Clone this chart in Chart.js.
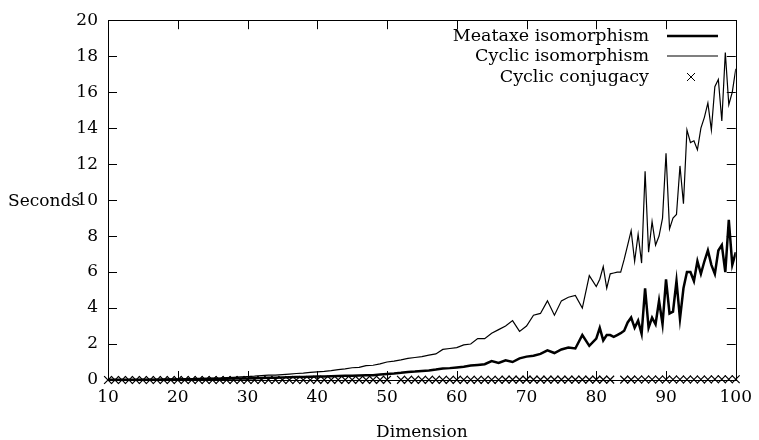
<!DOCTYPE html>
<html>
<head>
<meta charset="utf-8">
<title>Isomorphism timings</title>
<script src="https://cdn.jsdelivr.net/npm/chart.js@4.4.1/dist/chart.umd.min.js"></script>
<style>
    html, body { margin: 0; padding: 0; background: #ffffff; }
    #wrap { width: 759px; height: 440px; position: relative; }
</style>
</head>
<body>
<div id="wrap"><canvas id="timingChart"></canvas></div>
<script>
// Data
const isoDims = [
    10, 11, 12, 13, 14, 15, 16, 17, 18, 19,
    20, 21, 22, 23, 24, 25, 26, 27, 28, 29,
    30, 31, 32, 33, 34, 35, 36, 37, 38, 39,
    40, 41, 42, 43, 44, 45, 46, 47, 48, 49,
    50, 51, 52, 53, 54, 55, 56, 57, 58, 59,
    60, 61, 62, 63, 64, 65, 66, 67, 68, 69,
    70, 71, 72, 73, 74, 75, 76, 77, 78, 79,
    80, 80.5, 81, 81.5, 82, 82.5, 83, 83.5, 84, 84.5,
    85, 85.5, 86, 86.5, 87, 87.5, 88, 88.5, 89, 89.5,
    90, 90.5, 91, 91.5, 92, 92.5, 93, 93.5, 94, 94.5,
    95, 95.5, 96, 96.5, 97, 97.5, 98, 98.5, 99, 99.5,
    100
];

const meataxeIso = [
    0.01, 0.01, 0.01, 0.01, 0.02, 0.02, 0.02, 0.02, 0.03, 0.03,
    0.03, 0.04, 0.04, 0.05, 0.05, 0.06, 0.06, 0.07, 0.08, 0.08,
    0.09, 0.10, 0.11, 0.12, 0.13, 0.14, 0.15, 0.16, 0.17, 0.18,
    0.19, 0.20, 0.21, 0.22, 0.23, 0.24, 0.25, 0.26, 0.27, 0.30,
    0.33, 0.36, 0.40, 0.45, 0.47, 0.50, 0.53, 0.58, 0.64, 0.66,
    0.70, 0.74, 0.80, 0.84, 0.88, 1.05, 0.95, 1.10, 1.00, 1.20,
    1.30, 1.35, 1.45, 1.65, 1.50, 1.70, 1.80, 1.75, 2.50, 1.90,
    2.30, 2.90, 2.20, 2.50, 2.50, 2.40, 2.50, 2.60, 2.74, 3.20,
    3.47, 2.90, 3.30, 2.57, 5.10, 2.90, 3.47, 3.10, 4.40, 3.10,
    5.60, 3.70, 3.80, 5.50, 3.40, 5.10, 6.00, 6.00, 5.50, 6.60,
    5.90, 6.60, 7.20, 6.40, 5.90, 7.20, 7.50, 6.00, 8.90, 6.40,
    7.10
];

const cyclicIso = [
    0.01, 0.01, 0.02, 0.02, 0.02, 0.03, 0.03, 0.04, 0.04, 0.05,
    0.05, 0.06, 0.07, 0.08, 0.09, 0.10, 0.11, 0.13, 0.15, 0.17,
    0.19, 0.21, 0.24, 0.27, 0.27, 0.30, 0.33, 0.36, 0.38, 0.42,
    0.45, 0.48, 0.52, 0.58, 0.62, 0.68, 0.70, 0.80, 0.82, 0.90,
    1.00, 1.05, 1.12, 1.20, 1.25, 1.30, 1.38, 1.45, 1.70, 1.75,
    1.80, 1.95, 2.00, 2.30, 2.30, 2.60, 2.80, 3.00, 3.30, 2.70,
    3.00, 3.60, 3.70, 4.40, 3.60, 4.40, 4.60, 4.70, 4.00, 5.80,
    5.20, 5.60, 6.30, 5.10, 5.90, 5.95, 6.00, 6.00, 6.70, 7.50,
    8.30, 6.60, 8.10, 6.50, 11.60, 7.10, 8.80, 7.50, 8.00, 9.00,
    12.60, 8.40, 9.00, 9.20, 11.90, 9.80, 13.90, 13.20, 13.30, 12.80,
    14.00, 14.60, 15.40, 13.90, 16.30, 16.70, 14.40, 18.20, 15.30, 16.00,
    17.30
];

const conjDims = [
    10, 11, 12, 13, 14, 15, 16, 17, 18, 19,
    20, 21, 22, 23, 24, 25, 26, 27, 28, 29,
    30, 31, 32, 33, 34, 35, 36, 37, 38, 39,
    40, 41, 42, 43, 44, 45, 46, 47, 48, 49,
    50, 52, 53, 54, 55, 56, 57, 58, 59,
    60, 61, 62, 63, 64, 65, 66, 67, 68, 69,
    70, 71, 72, 73, 74, 75, 76, 77, 78, 79,
    80, 81, 82, 84, 85, 86, 87, 88, 89,
    90, 91, 92, 93, 94, 95, 96, 97, 98, 99,
    100
];

const cyclicConj = [
    0.00, 0.00, 0.00, 0.00, 0.00, 0.00, 0.00, 0.00, 0.00, 0.00,
    0.00, 0.00, 0.00, 0.00, 0.00, 0.00, 0.00, 0.00, 0.00, 0.00,
    0.00, 0.00, 0.00, 0.00, 0.00, 0.00, 0.00, 0.00, 0.00, 0.00,
    0.01, 0.01, 0.01, 0.01, 0.01, 0.01, 0.01, 0.01, 0.01, 0.01,
    0.01, 0.01, 0.01, 0.01, 0.01, 0.01, 0.01, 0.01, 0.01,
    0.01, 0.01, 0.01, 0.01, 0.01, 0.01, 0.01, 0.02, 0.02, 0.02,
    0.02, 0.02, 0.02, 0.02, 0.02, 0.02, 0.02, 0.02, 0.02, 0.02,
    0.02, 0.02, 0.02, 0.02, 0.02, 0.03, 0.03, 0.03, 0.03,
    0.03, 0.03, 0.03, 0.03, 0.03, 0.03, 0.03, 0.04, 0.04, 0.04,
    0.04
];

const yTicks = [0, 2, 4, 6, 8, 10, 12, 14, 16, 18, 20];
const xTicks = [10, 20, 30, 40, 50, 60, 70, 80, 90, 100];

const FONT = '"DejaVu Serif", "Liberation Serif", serif';

// zip x and y arrays into points
function toPoints(xs, ys) {
    return xs.map((x, i) => ({ x: x, y: ys[i] }));
}

// Frame, inward ticks, legend and horizontal y title, gnuplot style
const gnuplotDecor = {
    id: 'gnuplotDecor',
    afterDraw(chart) {
        const ctx = chart.ctx;
        const area = chart.chartArea;
        const xs = chart.scales.x;
        const ys = chart.scales.y;
        const tick = 9;

        ctx.save();
        ctx.strokeStyle = '#000';
        ctx.lineWidth = 1;

        ctx.beginPath();
        yTicks.forEach(v => {
            const py = Math.round(ys.getPixelForValue(v)) + 0.5;
            ctx.moveTo(area.left, py);
            ctx.lineTo(area.left + tick, py);
            ctx.moveTo(area.right, py);
            ctx.lineTo(area.right - tick, py);
        });
        xTicks.forEach(v => {
            const px = Math.round(xs.getPixelForValue(v)) + 0.5;
            ctx.moveTo(px, area.bottom);
            ctx.lineTo(px, area.bottom - tick);
            ctx.moveTo(px, area.top);
            ctx.lineTo(px, area.top + tick);
        });
        ctx.stroke();

        ctx.strokeRect(Math.round(area.left) + 0.5, Math.round(area.top) + 0.5,
            Math.round(area.right - area.left), Math.round(area.bottom - area.top));

        // y title, horizontal like the original
        ctx.fillStyle = '#000';
        ctx.font = '17px ' + FONT;
        ctx.textAlign = 'left';
        ctx.textBaseline = 'middle';
        ctx.fillText('Seconds', 8, ys.getPixelForValue(10) + 1);

        // legend, top right inside the frame
        ctx.font = '17.5px ' + FONT;
        const textRight = 649;
        const sampleL = 667;
        const sampleR = 718;
        const rows = [
            { label: 'Meataxe isomorphism', y: 36, kind: 'thick' },
            { label: 'Cyclic isomorphism', y: 56, kind: 'thin' },
            { label: 'Cyclic conjugacy', y: 77, kind: 'cross' }
        ];
        ctx.textAlign = 'right';
        rows.forEach(r => {
            ctx.fillText(r.label, textRight, r.y);
            ctx.beginPath();
            if (r.kind === 'cross') {
                const cx = 691, s = 4;
                ctx.lineWidth = 1;
                ctx.moveTo(cx - s, r.y - s);
                ctx.lineTo(cx + s, r.y + s);
                ctx.moveTo(cx - s, r.y + s);
                ctx.lineTo(cx + s, r.y - s);
            } else {
                ctx.lineWidth = r.kind === 'thick' ? 2.5 : 1.2;
                ctx.moveTo(sampleL, r.y);
                ctx.lineTo(sampleR, r.y);
            }
            ctx.stroke();
        });
        ctx.restore();
    }
};

const ctx = document.getElementById('timingChart').getContext('2d');

new Chart(ctx, {
    type: 'scatter',
    data: {
        datasets: [
            {
                label: 'Meataxe isomorphism',
                data: toPoints(isoDims, meataxeIso),
                showLine: true,
                borderColor: '#000',
                borderWidth: 2.5,
                pointRadius: 0,
                tension: 0
            },
            {
                label: 'Cyclic isomorphism',
                data: toPoints(isoDims, cyclicIso),
                showLine: true,
                borderColor: '#000',
                borderWidth: 1.2,
                pointRadius: 0,
                tension: 0
            },
            {
                label: 'Cyclic conjugacy',
                data: toPoints(conjDims, cyclicConj),
                showLine: false,
                clip: false,
                pointStyle: 'crossRot',
                pointRadius: 5.5,
                borderColor: '#000',
                borderWidth: 1.2,
                backgroundColor: '#000'
            }
        ]
    },
    options: {
        responsive: true,
        maintainAspectRatio: false,
        animation: false,
        events: [],
        layout: { padding: { top: 15, right: 20, left: 0, bottom: 0 } },
        plugins: {
            legend: { display: false },
            tooltip: { enabled: false }
        },
        scales: {
            x: {
                type: 'linear',
                min: 10,
                max: 100,
                afterBuildTicks: axis => { axis.ticks = xTicks.map(v => ({ value: v })); },
                afterFit: axis => { axis.height = 60; },
                grid: { display: false, drawTicks: false },
                border: { display: false },
                ticks: {
                    color: '#000',
                    padding: 7,
                    maxRotation: 0,
                    font: { family: FONT, size: 17 }
                },
                title: {
                    display: true,
                    text: 'Dimension',
                    color: '#000',
                    padding: { top: 4, bottom: -3 },
                    font: { family: FONT, size: 17 }
                }
            },
            y: {
                min: 0,
                max: 20,
                afterBuildTicks: axis => { axis.ticks = yTicks.map(v => ({ value: v })); },
                afterFit: axis => { axis.width = 108; },
                grid: { display: false, drawTicks: false },
                border: { display: false },
                ticks: {
                    color: '#000',
                    padding: 10,
                    font: { family: FONT, size: 17 }
                }
            }
        }
    },
    plugins: [gnuplotDecor]
});
</script>
</body>
</html>
